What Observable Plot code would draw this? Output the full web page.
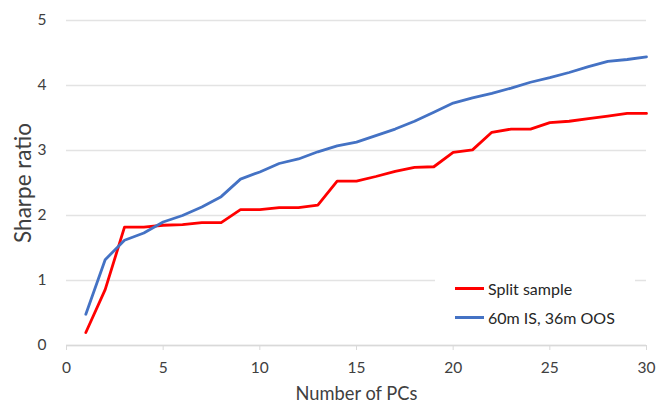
<!DOCTYPE html>
<html>
<head>
<meta charset="utf-8">
<script src="https://cdn.jsdelivr.net/npm/d3@7"></script>
<script src="https://cdn.jsdelivr.net/npm/@observablehq/plot@0.6"></script>
<style>
  html, body { margin: 0; padding: 0; background: #fff; }
  #chart { position: relative; width: 659px; height: 404px; font-family: Lato, "Open Sans", sans-serif; }
  #chart svg { overflow: visible; }
  #chart g[aria-label="x-axis label"] text { font-size: 18.3px; fill: #404040; }
  #chart g[aria-label="y-axis label"] text { font-size: 22.5px; fill: #404040; }
  #legend { position: absolute; left: 435px; top: 272px; width: 200px; background: #fff; padding: 2px 0 4px 0; }
  .item { display: flex; align-items: center; height: 29px; font-size: 16px; color: #262626; }
  .swatch { width: 29px; height: 3px; margin-left: 20px; margin-right: 4px; }
</style>
</head>
<body>
<div id="chart"></div>
<script>
const pcs = d3.range(1, 31);
const splitSample = [0.20, 0.86, 1.82, 1.82, 1.85, 1.86, 1.89, 1.89, 2.09, 2.09,
  2.12, 2.12, 2.16, 2.53, 2.53, 2.60, 2.68, 2.74, 2.75, 2.97,
  3.01, 3.28, 3.33, 3.33, 3.43, 3.45, 3.49, 3.53, 3.57, 3.57];
const rolling = [0.48, 1.32, 1.62, 1.73, 1.90, 2.00, 2.13, 2.29, 2.56, 2.67,
  2.80, 2.87, 2.98, 3.07, 3.13, 3.23, 3.33, 3.45, 3.59, 3.73,
  3.81, 3.88, 3.96, 4.05, 4.12, 4.20, 4.29, 4.37, 4.40, 4.44];
const seriesNames = ["Split sample", "60m IS, 36m OOS"];
const seriesColors = ["#ff0000", "#4472c4"];
const xTicks = [0, 5, 10, 15, 20, 25, 30];
const yTicks = [0, 1, 2, 3, 4, 5];

const data = [];
pcs.forEach((p, i) => {
  data.push({pcs: p, sharpe: splitSample[i], series: seriesNames[0]});
  data.push({pcs: p, sharpe: rolling[i], series: seriesNames[1]});
});

const chart = Plot.plot({
  width: 659,
  height: 404,
  marginLeft: 66,
  marginRight: 13,
  marginTop: 20,
  marginBottom: 59,
  style: {fontFamily: "Lato, 'Open Sans', sans-serif", fontSize: "15px", color: "#404040", background: "#fff"},
  x: {domain: [0, 30], ticks: xTicks},
  y: {domain: [0, 5], ticks: yTicks},
  color: {domain: seriesNames, range: seriesColors},
  marks: [
    Plot.gridY(yTicks, {stroke: "#e3e3e3", strokeOpacity: 1, strokeWidth: 1.3}),
    Plot.ruleY([0], {stroke: "#d9d9d9", strokeWidth: 1.3}),
    Plot.axisX(xTicks, {tickSize: 5, stroke: "#d9d9d9", tickPadding: 11, fontSize: 15.5, tickFormat: d3.format("d"),
      label: "Number of PCs", labelAnchor: "center", labelArrow: "none", labelOffset: 54}),
    Plot.axisY(yTicks, {tickSize: 0, tickPadding: 20, fontSize: 15.5, tickFormat: d3.format("d"),
      label: "Sharpe ratio", labelAnchor: "center", labelArrow: "none", labelOffset: 51}),
    Plot.line(data, {x: "pcs", y: "sharpe", stroke: "series", z: "series", strokeWidth: 2.8, curve: "linear"})
  ]
});
chart.style.position = "absolute";
chart.style.left = "0";
chart.style.top = "0";
const container = document.getElementById("chart");
container.appendChild(chart);

const legend = document.createElement("div");
legend.id = "legend";
seriesNames.forEach((name, i) => {
  const item = document.createElement("div");
  item.className = "item";
  const sw = document.createElement("span");
  sw.className = "swatch";
  sw.style.background = seriesColors[i];
  const t = document.createElement("span");
  t.textContent = name;
  item.appendChild(sw);
  item.appendChild(t);
  legend.appendChild(item);
});
container.appendChild(legend);
</script>
</body>
</html>
